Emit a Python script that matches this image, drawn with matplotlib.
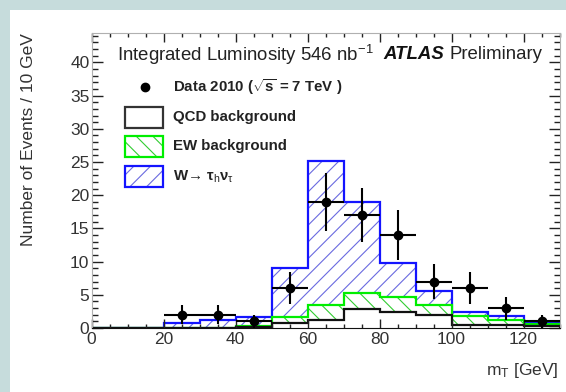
import numpy as np
import matplotlib.pyplot as plt
from matplotlib.patches import Rectangle
from matplotlib.ticker import MultipleLocator

plt.rcParams['font.family'] = ['Liberation Sans', 'DejaVu Sans']
plt.rcParams['mathtext.fontset'] = 'custom'
plt.rcParams['mathtext.rm'] = 'Liberation Sans'
plt.rcParams['mathtext.it'] = 'Liberation Sans:italic'
plt.rcParams['mathtext.bf'] = 'Liberation Sans:bold'
plt.rcParams['hatch.linewidth'] = 0.8

# bin edges in m_T [GeV]
edges = np.arange(0, 140, 10)
# stacked components per bin
qcd = [0, 0, 0, 0, 0.2, 0.8, 1.2, 2.8, 2.4, 2.0, 0.5, 0.5, 0.3]
ew = [0, 0, 0, 0, 0.1, 0.9, 2.2, 2.5, 2.3, 1.5, 1.3, 0.75, 0.3]
wtau = [0, 0, 0.7, 1.2, 1.4, 7.3, 21.7, 13.7, 5.1, 2.1, 0.6, 0.5, 0.3]
# data points
data_x = [25, 35, 45, 55, 65, 75, 85, 95, 105, 115, 125]
data_y = [2, 2, 1, 6, 19, 17, 14, 7, 6, 3, 1]

qcd = np.array(qcd)
green_top = qcd + np.array(ew)
blue_top = green_top + np.array(wtau)

W, H = 566, 392
fig = plt.figure(figsize=(W / 100, H / 100), dpi=100)
fig.patch.set_facecolor('#c6dcdc')
fig.add_artist(Rectangle((10 / W, 0), 1, 1 - 10 / H, transform=fig.transFigure,
                         facecolor='white', edgecolor='none', zorder=-5))

ax = fig.add_axes([91.5 / W, 1 - 328 / H, 468 / W, 295.5 / H])

blue, blue_h = '#1414ff', '#6a6ae0'
green, green_h = '#00ee00', '#33cc33'

# W -> tau nu on top of everything
ax.stairs(blue_top, edges, fill=True, facecolor='white', edgecolor=blue_h,
          hatch='//', linewidth=0)
ax.stairs(blue_top, edges, color=blue, linewidth=1.6, baseline=0)
# EW background
ax.stairs(green_top, edges, fill=True, facecolor='white', edgecolor=green_h,
          hatch='\\\\', linewidth=0)
ax.stairs(green_top, edges, color=green, linewidth=1.6, baseline=0)
# QCD background
ax.stairs(qcd, edges, fill=True, facecolor='white', edgecolor='none')
ax.stairs(qcd, edges, color='#111111', linewidth=1.6, baseline=0)

# data with sqrt(N) errors
ax.errorbar(data_x, data_y, yerr=np.sqrt(data_y), xerr=5, fmt='o', color='black',
            markersize=6, elinewidth=1.5, capsize=0, zorder=5)

ax.set_xlim(0, 130)
ax.set_ylim(0, 44.5)
ax.xaxis.set_major_locator(MultipleLocator(20))
ax.xaxis.set_minor_locator(MultipleLocator(5))
ax.yaxis.set_major_locator(MultipleLocator(5))
ax.yaxis.set_minor_locator(MultipleLocator(1))
ax.tick_params(which='both', direction='in', top=True, right=True, color='#222222',
               labelcolor='#333333', labelsize=12.5)
ax.tick_params(axis='x', which='major', length=6.5, width=1, pad=3)
ax.tick_params(axis='x', which='minor', length=3.2, width=1)
ax.tick_params(axis='y', which='major', length=8, width=1, pad=1.5)
ax.tick_params(axis='y', which='minor', length=4, width=1)
for s in ['left', 'top', 'right']:
    ax.spines[s].set_color('#b0b0b0')
ax.spines['bottom'].set_color('#111111')

# header text
ax.text(0.054, 0.925, r'Integrated Luminosity 546 nb$^{\mathrm{-1}}$', transform=ax.transAxes,
        fontsize=13.4, va='center', color='#222222')
ax.text(0.623, 0.925, 'ATLAS', transform=ax.transAxes, fontsize=13.4, va='center',
        fontweight='bold', fontstyle='italic', color='#111111')
ax.text(0.766, 0.925, 'Preliminary', transform=ax.transAxes, fontsize=13.4,
        va='center', color='#222222')

# legend drawn by hand
lx, tx = 0.072, 0.174
ax.plot([0.114], [0.817], 'o', color='black', markersize=6, transform=ax.transAxes)
ax.text(tx, 0.817, r'Data 2010 ($\mathbf{\sqrt{s}}$ = 7 TeV )', transform=ax.transAxes,
        fontsize=10.8, fontweight='bold', va='center', color='#222222')
boxes = [
    (0.677, 'none', '#333333', None, 'QCD background'),
    (0.579, green_h, green, '\\\\', 'EW background'),
    (0.477, blue_h, blue, '//', r'W→ τ$_{\mathrm{h}}$ν$_{\mathrm{τ}}$'),
]
for y0, hc, ec, hatch, label in boxes:
    ax.add_patch(Rectangle((lx, y0), 0.081, 0.072, transform=ax.transAxes,
                           facecolor='white', edgecolor=hc, hatch=hatch, linewidth=0))
    ax.add_patch(Rectangle((lx, y0), 0.081, 0.072, transform=ax.transAxes,
                           facecolor='none', edgecolor=ec, linewidth=1.6))
    ax.text(tx, y0 + 0.036, label, transform=ax.transAxes, fontsize=10.8,
            fontweight='bold', va='center', color='#222222')

fig.text(28.5 / W, 1 - 33 / H, 'Number of Events / 10 GeV', rotation=90,
         ha='center', va='top', fontsize=12.5, color='#333333')
fig.text(559 / W, 1 - 371 / H, r'm$_{\mathrm{T}}$ [GeV]', ha='right', va='center',
         fontsize=12.5, color='#333333')

fig.savefig('out.png', dpi=100, facecolor=fig.get_facecolor())
